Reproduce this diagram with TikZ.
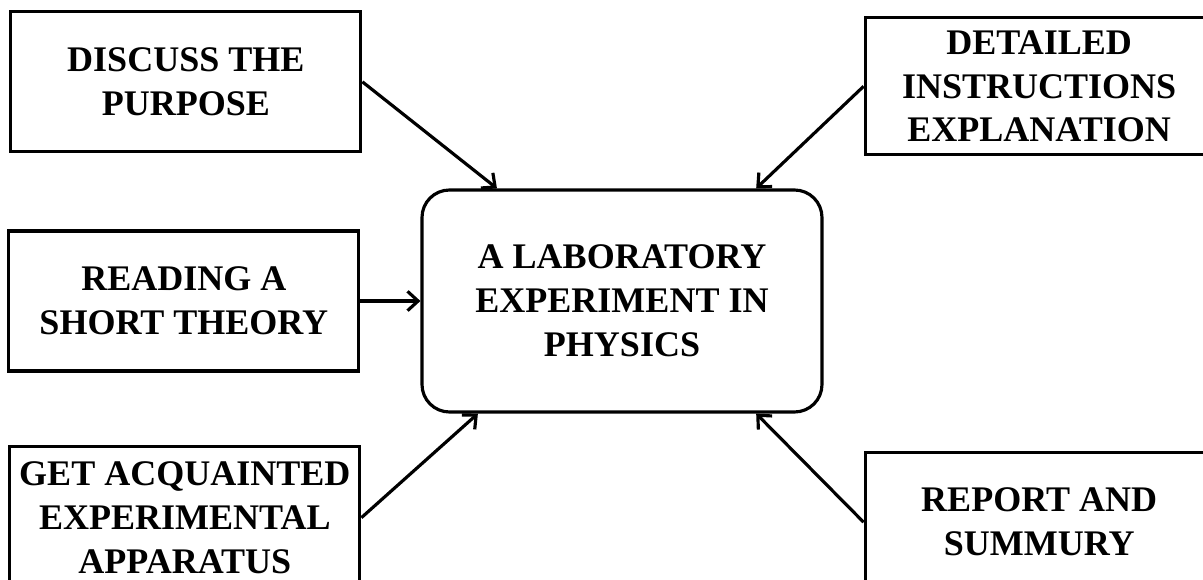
\documentclass[tikz,border=0pt]{standalone}
\usepackage{fontspec}
\setmainfont{Liberation Serif}
\usepackage{tikz}
\usetikzlibrary{arrows.meta, positioning}

\begin{document}
\begin{tikzpicture}[
        stepbox/.style={rectangle, draw=black, line width=1.8pt, minimum width=7cm, minimum height=2.8cm, align=center,
            font=\fontsize{20.5pt}{25pt}\selectfont\bfseries},
        hub/.style={stepbox, rounded corners=0.55cm, minimum width=8cm, minimum height=4.44cm},
        arrow/.style={-{Straight Barb[length=6pt, width=11pt, line width=1.8pt]}, line width=1.8pt}
    ]

        \useasboundingbox (0,0) rectangle (24.06,-11.6);
        \clip (0,0) rectangle (24.06,-11.6);

        \node[hub] (lab) at (12.44,-6.02) {A LABORATORY\\EXPERIMENT IN\\PHYSICS};

        \node[stepbox, above left=0.7cm and 1.16cm of lab] (purpose) {DISCUSS THE\\PURPOSE};
        \node[stepbox, left=1.2cm of lab] (theory) {READING A\\SHORT THEORY};
        \node[stepbox, below left=0.62cm and 1.18cm of lab, minimum height=2.86cm] (apparatus) {GET ACQUAINTED\\EXPERIMENTAL\\APPARATUS};
        \node[stepbox, above right=0.64cm and 0.8cm of lab, minimum height=2.74cm, minimum width=6.96cm] (instr) {DETAILED\\INSTRUCTIONS\\EXPLANATION};
        \node[stepbox, below right=0.74cm and 0.8cm of lab, minimum width=6.96cm] (report) {REPORT AND\\SUMMURY};

        \draw[arrow] (purpose.east) -- (lab.138);
        \draw[arrow] (instr.west) -- (lab.40);
        \draw[arrow] (theory.east) -- (lab.west);
        \draw[arrow] (apparatus.east) -- (lab.218);
        \draw[arrow] (report.west) -- (lab.-40);

    \end{tikzpicture}
\end{document}
